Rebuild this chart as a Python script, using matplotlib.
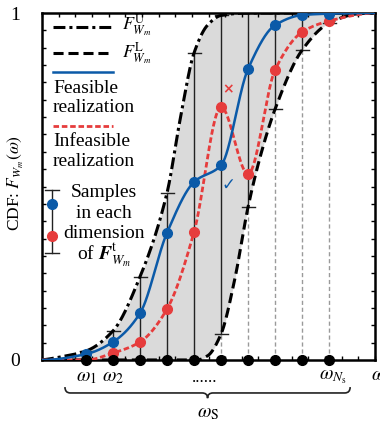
import numpy as np
import matplotlib.pyplot as plt
from matplotlib.path import Path
from matplotlib.patches import PathPatch

plt.switch_backend('agg')

plt.rcParams['font.family'] = ['Liberation Serif', 'DejaVu Sans']
plt.rcParams['mathtext.fontset'] = 'stix'

BLUE = '#0b5aa8'
RED = '#e63c3c'
FILL = '#dadada'

X_MIN, X_MAX = -0.63, 11.7

# sample positions omega_1 .. omega_Ns
SAMPLE_X = [1, 2, 3, 4, 5, 6, 7, 8, 9, 10]

# upper bound F^U (dash-dot)
UPPER_X = [-0.63, 0.0, 1, 2, 3, 4, 4.5, 5, 5.5, 6, 7, 11.7]
UPPER_Y = [0.0, 0.008, 0.026, 0.084, 0.24, 0.482, 0.70, 0.885, 0.965, 0.993, 1.0, 1.0]

# lower bound F^L (dashed)
LOWER_X = [-0.63, 5.1, 5.5, 6, 6.5, 7, 7.5, 8, 9, 10, 11.1, 11.7]
LOWER_Y = [0.0, 0.0, 0.012, 0.075, 0.23, 0.441, 0.60, 0.723, 0.893, 0.971, 0.998, 1.0]

# feasible realization (blue)
BLUE_X = [-0.63, 1, 2, 3, 4, 5, 6, 7, 8, 9, 10, 11.7]
BLUE_Y = [0.0, 0.017, 0.052, 0.135, 0.367, 0.513, 0.561, 0.839, 0.965, 0.994, 0.998, 1.0]
BLUE_DOTS = [0.017, 0.052, 0.135, 0.367, 0.513, 0.561, 0.839, 0.965, 0.994, 0.998]

# infeasible realization (red)
RED_X = [-0.63, 1.0, 2, 3, 4, 5, 6, 7, 8, 9, 10, 11.7]
RED_Y = [0.0, 0.0, 0.02, 0.052, 0.147, 0.369, 0.729, 0.536, 0.836, 0.945, 0.977, 1.0]
RED_DOT_X = [2, 3, 4, 5, 6, 7, 8, 9, 10]
RED_DOTS = [0.02, 0.052, 0.147, 0.369, 0.729, 0.536, 0.836, 0.945, 0.977]


def pchip(xk, yk, xs):
    xk = np.asarray(xk, float)
    yk = np.asarray(yk, float)
    h = np.diff(xk)
    delta = np.diff(yk) / h
    n = len(xk)
    d = np.zeros(n)
    for k in range(1, n - 1):
        if delta[k - 1] * delta[k] > 0:
            w1 = 2 * h[k] + h[k - 1]
            w2 = h[k] + 2 * h[k - 1]
            d[k] = (w1 + w2) / (w1 / delta[k - 1] + w2 / delta[k])
    for i0, i1, j in [(0, 1, 0), (-1, -2, -1)]:
        h0, h1 = h[i0], h[i1]
        d0 = ((2 * h0 + h1) * delta[i0] - h0 * delta[i1]) / (h0 + h1)
        if np.sign(d0) != np.sign(delta[i0]):
            d0 = 0.0
        elif np.sign(delta[i0]) != np.sign(delta[i1]) and abs(d0) > 3 * abs(delta[i0]):
            d0 = 3 * delta[i0]
        d[j] = d0
    xs = np.asarray(xs, float)
    idx = np.clip(np.searchsorted(xk, xs) - 1, 0, n - 2)
    t = (xs - xk[idx]) / h[idx]
    h00 = 2 * t**3 - 3 * t**2 + 1
    h10 = t**3 - 2 * t**2 + t
    h01 = -2 * t**3 + 3 * t**2
    h11 = t**3 - t**2
    return h00 * yk[idx] + h10 * h[idx] * d[idx] + h01 * yk[idx + 1] + h11 * h[idx] * d[idx + 1]


xs = np.linspace(X_MIN, X_MAX, 800)
upper = np.clip(pchip(UPPER_X, UPPER_Y, xs), 0, 1)
lower = np.clip(pchip(LOWER_X, LOWER_Y, xs), 0, 1)
blue = pchip(BLUE_X, BLUE_Y, xs)
red = pchip(RED_X, RED_Y, xs)

fig = plt.figure(figsize=(3.8, 4.25), dpi=100)
ax = fig.add_axes([42 / 380, 65 / 425, 333 / 380, 347 / 425])

ax.fill_between(xs, lower, upper, color=FILL, lw=0, zorder=1)

up_s = pchip(UPPER_X, UPPER_Y, SAMPLE_X)
lo_s = pchip(LOWER_X, LOWER_Y, SAMPLE_X)
cap = 0.24
for x, lo, up in zip(SAMPLE_X, lo_s, up_s):
    if lo > 0.005:
        ax.plot([x, x], [0, lo], color='#9a9a9a', lw=1.0, dashes=(3, 2), zorder=2)
    ax.plot([x, x], [lo, up], color='#222222', lw=1.0, zorder=2)
    ax.plot([x - cap, x + cap], [lo, lo], color='#222222', lw=1.0, zorder=2)
    ax.plot([x - cap, x + cap], [up, up], color='#222222', lw=1.0, zorder=2)

ax.plot(xs, upper, color='black', lw=2.2, dashes=(3.9, 1.3, 1.0, 1.3), zorder=3)
ax.plot(xs, lower, color='black', lw=2.2, dashes=(3.3, 1.6), zorder=3)
ax.plot(xs, red, color=RED, lw=2.0, dashes=(2.0, 1.0), zorder=4)
ax.plot(xs, blue, color=BLUE, lw=1.8, zorder=5)

ax.plot(RED_DOT_X, RED_DOTS, 'o', color=RED, ms=7, zorder=6)
ax.plot(SAMPLE_X, BLUE_DOTS, 'o', color=BLUE, ms=7, zorder=7)
ax.plot(SAMPLE_X, [0] * len(SAMPLE_X), 'o', color='black', ms=7, zorder=8, clip_on=False)

ax.text(6.26, 0.78, '×', color=RED, fontsize=10, ha='center', va='center',
        family='DejaVu Sans', fontweight='bold', zorder=8)
ax.text(6.26, 0.504, '✓', color=BLUE, fontsize=12, ha='center', va='center',
        family='DejaVu Sans', zorder=8)

ax.set_xlim(X_MIN, X_MAX)
ax.set_ylim(0, 1)
for s in ax.spines.values():
    s.set_linewidth(1.8)
ax.set_yticks([0, 1])
ax.set_yticklabels(['0', '1'], fontsize=14)
ax.set_yticks(np.linspace(0, 1, 21), minor=True)
ax.set_xticks([])
ax.set_xticks(np.linspace(X_MIN, X_MAX, 21), minor=True)
ax.tick_params(axis='y', which='major', length=0, pad=16)
ax.tick_params(which='minor', direction='in', length=3, width=1.0,
               top=True, bottom=True, left=True, right=True)

# legend, drawn by hand
tr = ax.transAxes
ax.plot([0.033, 0.21], [0.96, 0.96], transform=tr, color='black', lw=2.2,
        dashes=(3.9, 1.3, 1.0, 1.3), zorder=9)
ax.text(0.24, 0.962, r'$F^{\mathrm{U}}_{W_m}$', transform=tr, fontsize=13, va='center')
ax.plot([0.033, 0.21], [0.885, 0.885], transform=tr, color='black', lw=2.2,
        dashes=(3.3, 1.6), zorder=9)
ax.text(0.24, 0.883, r'$F^{\mathrm{L}}_{W_m}$', transform=tr, fontsize=13, va='center')
ax.plot([0.033, 0.213], [0.83, 0.83], transform=tr, color=BLUE, lw=1.8, zorder=9)
ax.text(0.033, 0.769, 'Feasible', transform=tr, fontsize=14, va='baseline')
ax.text(0.033, 0.715, 'realization', transform=tr, fontsize=14, va='baseline')
ax.plot([0.033, 0.213], [0.674, 0.674], transform=tr, color=RED, lw=2.0,
        dashes=(2.0, 1.0), zorder=9)
ax.text(0.033, 0.617, 'Infeasible', transform=tr, fontsize=14, va='baseline')
ax.text(0.033, 0.559, 'realization', transform=tr, fontsize=14, va='baseline')

ax.plot([0.03, 0.03], [0.308, 0.49], transform=tr, color='#222222', lw=1.0, zorder=9)
ax.plot([0.008, 0.052], [0.49, 0.49], transform=tr, color='#222222', lw=1.0, zorder=9)
ax.plot([0.008, 0.052], [0.308, 0.308], transform=tr, color='#222222', lw=1.0, zorder=9)
ax.plot([0.03], [0.45], 'o', transform=tr, color=BLUE, ms=7, zorder=10)
ax.plot([0.03], [0.357], 'o', transform=tr, color=RED, ms=7, zorder=10)
ax.text(0.186, 0.47, 'Samples', transform=tr, fontsize=14, ha='center', va='baseline')
ax.text(0.186, 0.409, 'in each', transform=tr, fontsize=14, ha='center', va='baseline')
ax.text(0.186, 0.352, 'dimension', transform=tr, fontsize=14, ha='center', va='baseline')
ax.text(0.186, 0.288, r'of $\boldsymbol{F}^{\mathrm{t}}_{W_m}$', transform=tr, fontsize=14,
        ha='center', va='baseline')

fig.text(16 / 380, (425 - 183) / 425, r'CDF: $F_{W_m}(\omega)$', rotation=90, fontsize=12.5,
         ha='center', va='center')

# x-axis annotations
ax.text(1, -0.05, r'$\omega_1$', fontsize=14, ha='center', va='center', clip_on=False)
ax.text(2, -0.05, r'$\omega_2$', fontsize=14, ha='center', va='center', clip_on=False)
ax.text(5.41, -0.062, '......', fontsize=12, ha='center', va='baseline', clip_on=False)
ax.text(10.15, -0.05, r'$\omega_{N_{\mathrm{s}}}$', fontsize=14, ha='center', va='center',
        clip_on=False)
ax.text(11.55, -0.045, r'$\omega$', fontsize=14, ha='left', va='center', clip_on=False)

x0, x1, xm = 0.22, 10.78, 5.5
y_end, y_mid, y_tip = -0.078, -0.095, -0.11
r = 0.2
verts = [(x0, y_end), (x0, y_mid), (x0 + r, y_mid), (xm - r, y_mid),
         (xm, y_mid), (xm, y_tip), (xm, y_mid), (xm + r, y_mid),
         (x1 - r, y_mid), (x1, y_mid), (x1, y_end)]
codes = [Path.MOVETO, Path.CURVE3, Path.CURVE3, Path.LINETO,
         Path.CURVE3, Path.CURVE3, Path.CURVE3, Path.CURVE3,
         Path.LINETO, Path.CURVE3, Path.CURVE3]
ax.add_patch(PathPatch(Path(verts, codes), fill=False, lw=1.2, color='#222222', clip_on=False))
ax.text(xm + 0.02, -0.153, r'$\omega_{\mathrm{S}}$', fontsize=14, ha='center', va='center',
        clip_on=False)

plt.savefig('out.png', dpi=100)
plt.close()
